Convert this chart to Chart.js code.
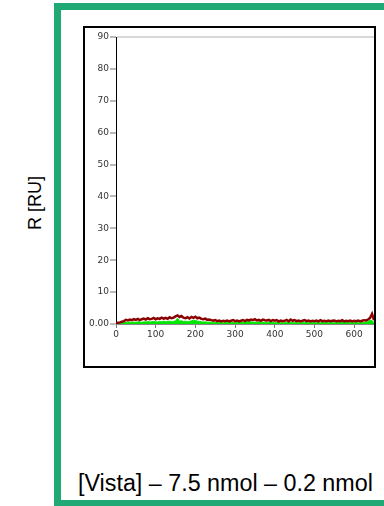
<!DOCTYPE html>
<html>
<head>
<meta charset="utf-8">
<script src="https://cdn.jsdelivr.net/npm/chart.js@4"></script>
<style>
  html, body { margin:0; padding:0; background:#fff; }
  body { width:384px; height:506px; overflow:hidden; position:relative; font-family: Arial, "Liberation Sans", sans-serif; }
  #frame { position:absolute; left:54px; top:3px; width:420px; height:504px; box-sizing:border-box; border:7px solid #21a975; }
  #box { position:absolute; left:83px; top:26px; width:293px; height:342px; box-sizing:border-box; border:2px solid #000; }
  #cv { position:absolute; left:85px; top:28px; width:289px; height:338px; }
  #ylab { position:absolute; left:35px; top:203px; transform:translate(-50%,-50%) rotate(-90deg); font-size:18px; white-space:nowrap; color:#000; }
  #title { position:absolute; left:78px; top:470px; font-size:23.3px; white-space:nowrap; color:#000; }
</style>
</head>
<body>
<div id="frame"></div>
<div id="box"></div>
<div id="ylab">R [RU]</div>
<div id="title">[Vista] – 7.5 nmol – 0.2 nmol</div>
<canvas id="cv" width="289" height="338"></canvas>
<script>
const sampleStep = 5;
const responseRed = [
  0.2,0.4,0.5,0.7,0.9,1.3,1.1,1.4,1.2,1.5,
  1.3,1.6,1.2,1.5,1.7,1.4,1.8,1.5,1.6,1.9,
  1.5,1.8,1.6,2.0,1.7,1.9,1.6,2.1,1.8,2.0,
  2.4,2.7,2.2,2.5,2.0,1.8,2.1,1.7,2.2,1.9,
  2.3,1.8,2.0,1.6,1.5,1.7,1.3,1.4,1.2,1.0,
  1.2,0.9,1.1,0.8,1.0,0.9,1.1,0.8,1.0,1.2,
  0.9,1.1,0.8,1.0,1.2,0.9,1.3,1.1,1.4,1.2,
  1.5,1.1,1.3,1.0,1.4,1.2,1.1,1.3,0.9,1.2,
  1.0,1.2,0.8,1.1,0.9,1.0,1.3,0.8,1.4,1.0,
  1.2,0.9,1.1,0.8,1.0,1.2,0.9,1.1,0.8,1.0,
  0.9,1.1,0.8,1.2,0.9,1.0,0.8,1.1,0.9,1.0,
  1.1,0.8,1.0,0.9,1.2,0.8,1.0,0.9,1.1,0.8,
  1.0,0.9,1.1,0.8,1.0,1.2,1.1,1.4,1.9,3.2,
  1.2
];
const responseGreen = [
  0.0,0.1,0.2,0.3,0.4,0.5,0.4,0.6,0.5,0.6,
  0.5,0.7,0.6,0.5,0.7,0.6,0.8,0.6,0.7,0.8,
  0.7,0.6,0.8,0.7,0.9,0.7,0.8,0.9,0.7,0.8,
  1.0,1.8,0.9,1.0,0.8,0.9,0.7,0.8,1.0,1.2,
  1.1,0.9,0.8,0.7,0.6,0.7,0.5,0.6,0.5,0.4,
  0.5,0.4,0.5,0.4,0.3,0.5,0.4,0.5,0.4,0.5,
  0.4,0.5,0.4,0.6,0.5,0.4,0.7,1.0,0.6,0.5,
  0.6,0.5,0.7,0.5,0.6,0.4,0.5,0.6,0.4,0.5,
  0.4,0.5,0.4,0.5,0.3,0.4,0.5,0.4,0.6,0.4,
  0.5,0.4,0.5,0.3,0.4,0.5,0.4,0.5,0.3,0.4,
  0.4,0.5,0.3,0.4,0.5,0.4,0.3,0.5,0.4,0.5,
  0.4,0.3,0.5,0.4,0.9,0.4,0.5,0.4,0.5,0.3,
  0.4,0.5,0.4,0.3,0.5,0.4,0.6,0.7,1.2,1.0,
  0.4
];
const timeSec = responseRed.map((_, i) => i * sampleStep);
const xTicks = [0, 100, 200, 300, 400, 500, 600];
const yTicks = [0, 10, 20, 30, 40, 50, 60, 70, 80, 90];

const tickFont = { family: '"DejaVu Sans", Verdana, sans-serif', size: 9 };

new Chart(document.getElementById('cv'), {
  type: 'line',
  data: {
    datasets: [
      {
        label: 'fit',
        data: timeSec.map((t, i) => ({ x: t, y: responseGreen[i] })),
        borderColor: '#00e600',
        backgroundColor: '#00e600',
        borderWidth: 1,
        fill: 'origin',
        pointRadius: 0,
        tension: 0,
        order: 2
      },
      {
        label: 'response',
        data: timeSec.map((t, i) => ({ x: t, y: responseRed[i] })),
        borderColor: '#8b0000',
        borderWidth: 2.5,
        fill: false,
        pointRadius: 0,
        tension: 0,
        order: 1
      }
    ]
  },
  options: {
    responsive: false,
    animation: false,
    layout: { padding: { top: 9, right: 0, left: 0, bottom: 0 } },
    plugins: { legend: { display: false }, tooltip: { enabled: false } },
    scales: {
      x: {
        type: 'linear',
        min: 0, max: 650,
        afterFit: s => { s.height = 42; },
        afterBuildTicks: s => { s.ticks = xTicks.map(v => ({ value: v })); },
        ticks: { color: '#333', font: tickFont, padding: 1, maxRotation: 0 },
        grid: { drawOnChartArea: false, drawTicks: true, tickLength: 4, tickColor: '#777' },
        border: { color: '#888', width: 1 }
      },
      y: {
        type: 'linear',
        min: 0, max: 90,
        afterFit: s => { s.width = 31; },
        afterBuildTicks: s => { s.ticks = yTicks.map(v => ({ value: v })); },
        ticks: { color: '#333', font: tickFont, padding: 1, callback: v => v === 0 ? '0.00' : String(v) },
        grid: {
          drawOnChartArea: true, drawTicks: true, tickLength: 6,
          color: c => (c.tick && c.tick.value === 90) ? '#d8d8d8' : 'rgba(0,0,0,0)',
          lineWidth: c => (c.tick && c.tick.value === 90) ? 2 : 0,
          tickColor: '#777', tickWidth: 1
        },
        border: { color: '#000', width: 1 }
      }
    }
  }
});
</script>
</body>
</html>
